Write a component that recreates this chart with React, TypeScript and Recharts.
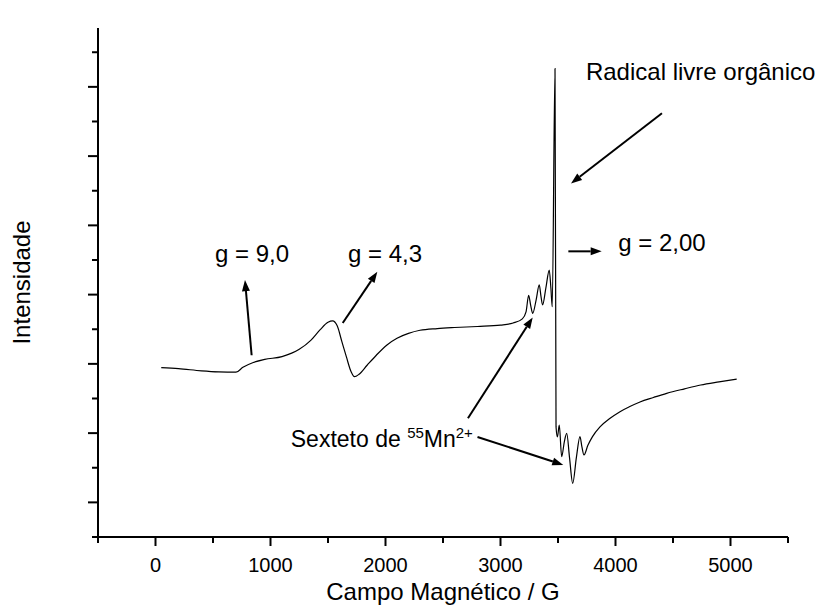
import {
  LineChart,
  Line,
  XAxis,
  YAxis,
  ReferenceLine,
  ReferenceDot,
} from 'recharts';

// campo magnético (G) and intensidade (u.a.)
const FIELD = [
  50, 200, 400, 550, 700, 760, 850, 950, 1100, 1250, 1350, 1430, 1500, 1540,
  1580, 1620, 1660, 1700, 1730, 1770, 1840, 1920, 2010, 2100, 2200, 2300, 2450,
  2600, 2800, 3000, 3110, 3190, 3222, 3245, 3262, 3280, 3310, 3337, 3352, 3366,
  3395, 3424, 3438, 3450, 3474, 3483, 3495, 3511, 3532, 3555, 3576, 3600, 3628,
  3660, 3691, 3708, 3726, 3760, 3800, 3865, 3950, 4039, 4120, 4213, 4330, 4445,
  4600, 4741, 4900, 5054,
];
const INTENSITY = [
  4.89, 4.86, 4.8, 4.77, 4.76, 4.9, 5.04, 5.13, 5.21, 5.42, 5.68, 5.98, 6.2,
  6.24, 6.1, 5.65, 5.2, 4.78, 4.63, 4.7, 4.96, 5.25, 5.54, 5.74, 5.88, 5.97,
  6.02, 6.05, 6.08, 6.12, 6.18, 6.3, 6.5, 6.98, 6.7, 6.46, 6.85, 7.28, 6.95,
  6.7, 7.2, 7.71, 7.2, 6.65, 13.53, 3.18, 2.89, 3.23, 2.32, 2.75, 2.99, 2.3,
  1.55, 2.3, 2.9, 2.6, 2.37, 2.65, 2.9, 3.18, 3.42, 3.62, 3.76, 3.9, 4.03,
  4.15, 4.28, 4.39, 4.48, 4.56,
];

const X_TICKS = [
  -500, 0, 500, 1000, 1500, 2000, 2500, 3000, 3500, 4000, 4500, 5000, 5500,
];
const Y_TICKS = [0, 1, 2, 3, 4, 5, 6, 7, 8, 9, 10, 11, 12, 13, 14];

// annotation texts: [label, field, intensity, anchor]
const NOTES: [string, number, number, string][] = [
  ['g = 9,0', 839, 7.94, 'middle'],
  ['g = 4,3', 1674, 7.94, 'start'],
  ['Radical livre orgânico', 3743, 13.2, 'start'],
  ['g = 2,00', 4024, 8.25, 'start'],
];

// arrows: tail -> head
const ARROWS = [
  [836, 5.25, 778, 7.42],
  [1628, 6.18, 1929, 7.66],
  [4404, 12.24, 3613, 10.21],
  [3590, 8.25, 3880, 8.25],
  [2717, 3.43, 3280, 6.34],
  [2800, 2.89, 3546, 2.08],
];

const SEXTETO = { field: 2760, intensity: 2.6 };

const data = FIELD.map((f, i) => ({ field: f, intensity: INTENSITY[i] }));

const FONT = '"Liberation Sans", Arial, Helvetica, sans-serif';

const XTick = (props: any) => {
  const { x, y, payload } = props;
  const v = payload.value;
  const major = v % 1000 === 0 && v >= 0 && v <= 5000;
  return (
    <g>
      <line x1={x} x2={x} y1={y} y2={y + (major ? 9 : 6)} stroke="#000" strokeWidth={2} />
      {major && (
        <text x={x} y={y + 35} textAnchor="middle" fontSize={20} fontFamily={FONT} fill="#000">
          {v}
        </text>
      )}
    </g>
  );
};

const YTick = (props: any) => {
  const { x, y, payload } = props;
  const major = payload.value % 2 === 1;
  return <line x1={x - (major ? 10 : 6)} x2={x} y1={y} y2={y} stroke="#000" strokeWidth={2} />;
};

const arrowShape = (props: any) => {
  const { x1, y1, x2, y2 } = props;
  const ang = Math.atan2(y2 - y1, x2 - x1);
  const len = 11;
  const w = 4;
  const bx = x2 - len * Math.cos(ang);
  const by = y2 - len * Math.sin(ang);
  const px = -Math.sin(ang) * w;
  const py = Math.cos(ang) * w;
  return (
    <g>
      <line x1={x1} y1={y1} x2={bx} y2={by} stroke="#000" strokeWidth={2} />
      <polygon points={`${x2},${y2} ${bx + px},${by + py} ${bx - px},${by - py}`} fill="#000" />
    </g>
  );
};

export default function App() {
  return (
    <div style={{ width: 831, height: 615, background: '#fff' }}>
      <style>{'body{margin:0}'}</style>
      <LineChart
        width={831}
        height={615}
        data={data}
        margin={{ top: 28, right: 43, left: 0, bottom: 0 }}
      >
        <XAxis
          dataKey="field"
          type="number"
          domain={[-500, 5500]}
          ticks={X_TICKS}
          interval={0}
          height={78}
          tickSize={0}
          tickMargin={0}
          tickLine={false}
          axisLine={{ stroke: '#000', strokeWidth: 2 }}
          tick={<XTick />}
          label={({ viewBox }: any) => (
            <text
              x={viewBox.x + viewBox.width / 2}
              y={600}
              textAnchor="middle"
              fontSize={24}
              fontFamily={FONT}
              fill="#000"
            >
              Campo Magnético / G
            </text>
          )}
        />
        <YAxis
          type="number"
          domain={[0, 14.7]}
          ticks={Y_TICKS}
          interval={0}
          width={98}
          tickSize={0}
          tickMargin={0}
          tickLine={false}
          axisLine={{ stroke: '#000', strokeWidth: 2 }}
          tick={<YTick />}
          label={({ viewBox }: any) => {
            const cy = viewBox.y + viewBox.height / 2;
            return (
              <text
                x={30}
                y={cy}
                transform={`rotate(-90, 30, ${cy})`}
                textAnchor="middle"
                fontSize={24}
                fontFamily={FONT}
                fill="#000"
              >
                Intensidade
              </text>
            );
          }}
        />
        <Line
          type="monotone"
          dataKey="intensity"
          stroke="#000"
          strokeWidth={1.2}
          dot={false}
          isAnimationActive={false}
        />
        {ARROWS.map((a, i) => (
          <ReferenceLine
            key={`arrow-${i}`}
            segment={[
              { x: a[0], y: a[1] },
              { x: a[2], y: a[3] },
            ]}
            shape={arrowShape}
          />
        ))}
        {NOTES.map(([label, f, v, anchor]) => (
          <ReferenceDot
            key={label}
            x={f}
            y={v}
            r={1}
            shape={(p: any) => (
              <text
                x={p.cx}
                y={p.cy}
                textAnchor={anchor as any}
                fontSize={24}
                fontFamily={FONT}
                fill="#000"
              >
                {label}
              </text>
            )}
          />
        ))}
        <ReferenceDot
          x={SEXTETO.field}
          y={SEXTETO.intensity}
          r={1}
          shape={(p: any) => (
            <text x={p.cx} y={p.cy} textAnchor="end" fontSize={23} fontFamily={FONT} fill="#000">
              <tspan>Sexteto de </tspan>
              <tspan dy={-9} fontSize={15}>55</tspan>
              <tspan dy={9}>Mn</tspan>
              <tspan dy={-9} fontSize={15}>2+</tspan>
            </text>
          )}
        />
      </LineChart>
    </div>
  );
}
